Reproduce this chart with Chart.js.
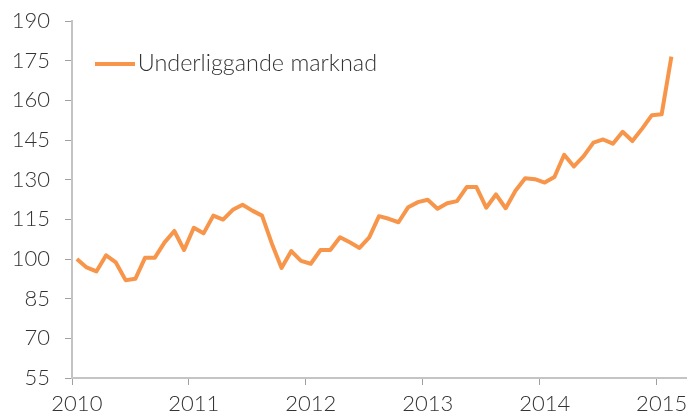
<!DOCTYPE html>
<html>
<head>
<meta charset="utf-8">
<script src="https://cdn.jsdelivr.net/npm/chart.js@4"></script>
<style>
  body { margin: 0; background: #fff; }
</style>
</head>
<body>
<canvas id="canvas" width="690" height="416"></canvas>
<script>
// monthly index, Jan 2010 - Feb 2015
let years = ['2010', '2011', '2012', '2013', '2014', '2015'];
let seriesName = 'Underliggande marknad';
let values = [
  100, 96.8, 95.3, 101.4, 98.7, 92.0, 92.5, 100.5, 100.5, 106.3, 110.6, 103.4,
  111.8, 109.7, 116.4, 114.9, 118.6, 120.5, 118.3, 116.4, 105.9, 96.6, 103.0, 99.3,
  98.2, 103.4, 103.4, 108.2, 106.3, 104.2, 108.2, 116.2, 115.2, 113.9, 119.6, 121.5,
  122.4, 119.0, 121.1, 121.9, 127.2, 127.2, 119.4, 124.4, 119.2, 125.8, 130.5, 130.2,
  128.9, 131.0, 139.4, 135.0, 138.9, 144.0, 145.2, 143.6, 148.1, 144.6, 149.3, 154.4,
  154.7, 176.5
];
let monthsShown = 63; // axis runs one month past the last value

// one label per month, only January gets the year
let labels = [];
for (let i = 0; i < monthsShown; i++) {
  labels.push(i % 12 === 0 ? years[i / 12] : '');
}

let orange = '#f7964a';
let textColor = '#333333';
let font = { family: 'Lato, "Open Sans", sans-serif', size: 22, weight: '300' };

// legend sample: a short line, drawn as the point style
let sample = document.createElement('canvas');
sample.width = 40;
sample.height = 4;
let sctx = sample.getContext('2d');
sctx.fillStyle = orange;
sctx.fillRect(0, 0, 40, 4);

let options = {
  type: 'line',
  data: {
    labels: labels,
    datasets: [{
      label: seriesName,
      data: values,
      borderColor: orange,
      backgroundColor: orange,
      borderWidth: 4,
      pointRadius: 0,
      tension: 0,
      fill: false,
      borderJoinStyle: 'round'
    }]
  },
  options: {
    responsive: false,
    animation: false,
    devicePixelRatio: 1,
    layout: { padding: { top: 21, right: 4, left: 0, bottom: 0 } },
    plugins: {
      tooltip: { enabled: false },
      legend: {
        position: 'chartArea',
        align: 'start',
        // empty title only pushes the legend row down
        title: {
          display: true,
          text: '',
          font: { size: 1, lineHeight: 1 },
          padding: { top: 20, bottom: 0 }
        },
        labels: {
          usePointStyle: true,
          pointStyle: sample,
          pointStyleWidth: 23,
          padding: 31,
          color: textColor,
          font: { family: 'Lato, "Open Sans", sans-serif', size: 23.4, weight: '300' }
        }
      }
    },
    scales: {
      x: {
        type: 'category',
        offset: true,
        afterFit: function(scale) { scale.height = 38; },
        border: { color: '#c4c4c4', width: 2 },
        grid: {
          offset: true,
          drawOnChartArea: false,
          drawTicks: true,
          tickLength: 7,
          tickColor: function(ctx) { return ctx.index % 12 === 0 ? '#a0a0a0' : 'rgba(0,0,0,0)'; }
        },
        ticks: {
          autoSkip: false,
          maxRotation: 0,
          minRotation: 0,
          padding: 6,
          color: textColor,
          font: font
        }
      },
      y: {
        min: 55,
        max: 190,
        afterFit: function(scale) {
          scale.width = 72;
          scale.paddingTop = 0;
          scale.paddingBottom = 0;
        },
        border: { color: '#c4c4c4', width: 2 },
        grid: {
          drawOnChartArea: false,
          drawTicks: true,
          tickLength: 7,
          tickColor: '#a0a0a0'
        },
        ticks: {
          stepSize: 15,
          padding: 15,
          color: textColor,
          font: font
        }
      }
    }
  }
};

let chart = new Chart(document.getElementById('canvas'), options);
</script>
</body>
</html>
